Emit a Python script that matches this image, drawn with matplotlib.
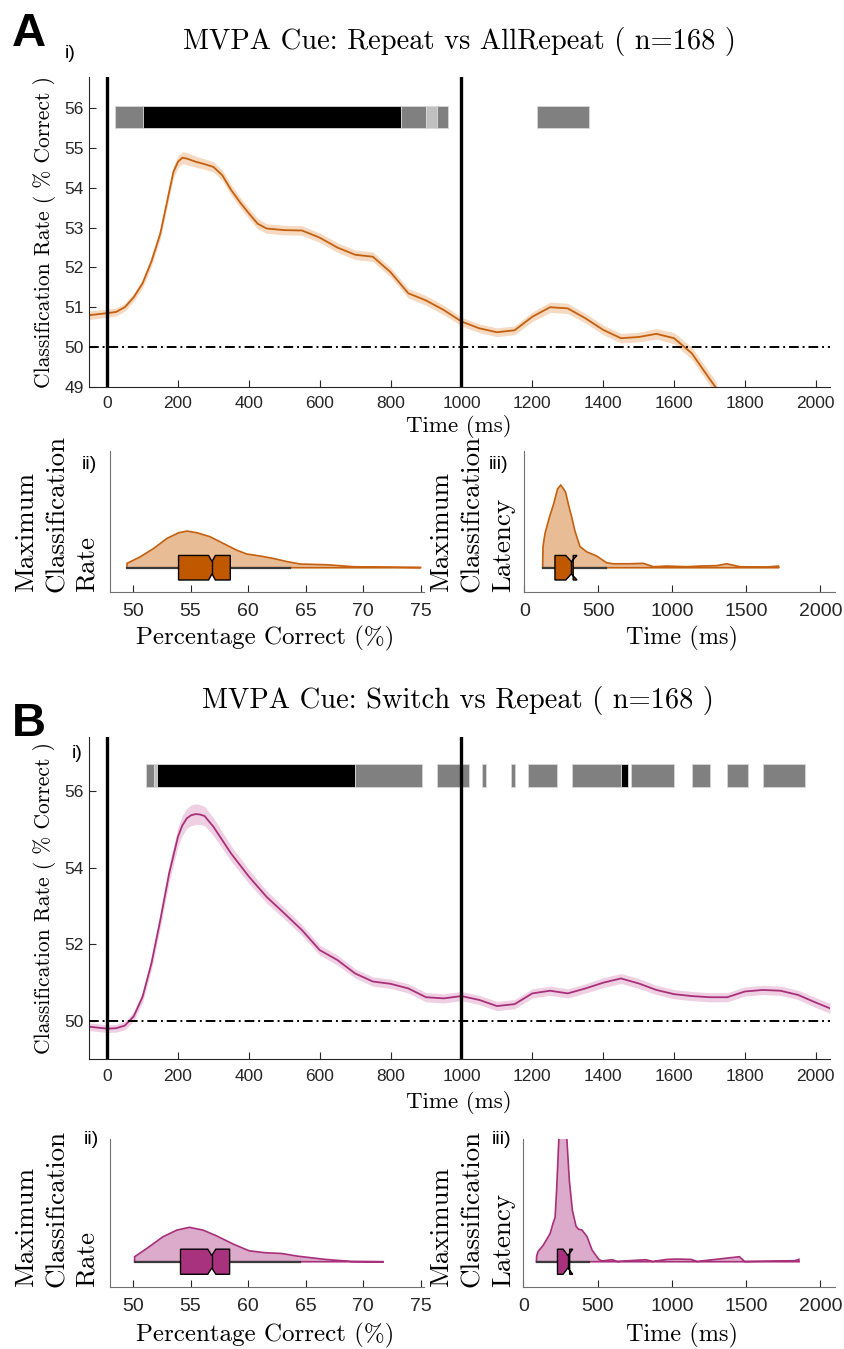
import matplotlib
matplotlib.use("Agg")
import matplotlib.pyplot as plt
from matplotlib.patches import Polygon
import numpy as np

plt.rcParams["font.family"] = ["Liberation Sans", "DejaVu Sans"]
SERIF = ["cmr10", "DejaVu Serif"]

# --- panel A: Repeat vs AllRepeat ---
a_time = [-50, 0, 25, 50, 75, 100, 125, 150, 162, 175, 187, 200, 212, 225, 250, 275, 300,
          325, 350, 375, 400, 425, 450, 500, 550, 600, 650, 700, 750, 800, 850, 900, 950,
          1000, 1050, 1100, 1150, 1200, 1250, 1300, 1350, 1400, 1450, 1500, 1550, 1600,
          1650, 1700, 1720]
a_mean = [50.80, 50.85, 50.88, 51.00, 51.25, 51.60, 52.15, 52.85, 53.35, 53.90, 54.40,
          54.66, 54.76, 54.74, 54.66, 54.60, 54.53, 54.32, 53.95, 53.64, 53.36, 53.10,
          52.98, 52.94, 52.93, 52.75, 52.50, 52.32, 52.27, 51.88, 51.35, 51.17, 50.93,
          50.64, 50.47, 50.37, 50.42, 50.76, 51.00, 50.97, 50.72, 50.43, 50.22, 50.25,
          50.33, 50.22, 49.84, 49.20, 48.95]
a_sem = [0.11, 0.10, 0.10, 0.10, 0.10, 0.11, 0.12, 0.13, 0.14, 0.14, 0.15, 0.15, 0.15,
         0.15, 0.14, 0.13, 0.13, 0.13, 0.13, 0.13, 0.13, 0.13, 0.12, 0.12, 0.12, 0.12,
         0.12, 0.12, 0.12, 0.12, 0.12, 0.12, 0.12, 0.11, 0.11, 0.11, 0.11, 0.12, 0.13,
         0.13, 0.12, 0.12, 0.12, 0.12, 0.13, 0.14, 0.15, 0.16, 0.16]
# significance bar segments (start ms, end ms, shade)
a_sig = [(21, 100, "#808080"), (100, 829, "#000000"), (829, 901, "#808080"),
         (901, 930, "#c0c0c0"), (930, 961, "#808080"), (1212, 1359, "#808080")]

a_rate_x = [49.48, 50.64, 51.8, 52.95, 53.97, 54.7, 55.57, 56.7, 57.86, 59.0, 59.9,
            61.07, 62.2, 63.4, 64.57, 66.9, 69.2, 75.0]
a_rate_d = [0.031, 0.078, 0.137, 0.208, 0.248, 0.260, 0.248, 0.220, 0.172, 0.125, 0.097,
            0.083, 0.066, 0.043, 0.026, 0.021, 0.007, 0.002]
a_rate_box = [53.96, 56.57, 56.87, 57.16, 58.46]   # q1, notch lo, median, notch hi, q3
a_rate_whisk = [49.48, 63.68]

a_lat_x = [124, 126, 140, 170, 198, 225, 246, 265, 279, 300, 320, 342, 376, 421, 489,
           556, 601, 700, 804, 872, 962, 1097, 1187, 1300, 1367, 1457, 1637, 1716, 1720]
a_lat_d = [0.0, 0.149, 0.244, 0.36, 0.452, 0.56, 0.586, 0.56, 0.534, 0.44, 0.36, 0.26,
           0.15, 0.113, 0.083, 0.035, 0.028, 0.028, 0.031, 0.007, 0.012, 0.007, 0.012,
           0.015, 0.028, 0.007, 0.005, 0.012, 0.0]
a_lat_box = [207, 280, 318, 356, 330]
a_lat_whisk = [124, 552]

# --- panel B: Switch vs Repeat ---
b_time = [-50, 0, 25, 50, 75, 100, 125, 150, 175, 200, 212, 225, 237, 250, 262, 275, 300,
          350, 400, 450, 500, 550, 600, 650, 700, 750, 800, 850, 900, 950, 1000, 1050,
          1100, 1150, 1200, 1250, 1300, 1350, 1400, 1450, 1500, 1550, 1600, 1650, 1700,
          1750, 1800, 1850, 1900, 1950, 2000, 2040]
b_mean = [49.85, 49.80, 49.81, 49.88, 50.12, 50.63, 51.50, 52.63, 53.85, 54.81, 55.10,
          55.29, 55.37, 55.40, 55.39, 55.35, 55.07, 54.37, 53.77, 53.24, 52.81, 52.37,
          51.85, 51.59, 51.24, 51.03, 50.97, 50.85, 50.62, 50.59, 50.65, 50.55, 50.39,
          50.44, 50.72, 50.79, 50.72, 50.85, 51.00, 51.11, 50.98, 50.81, 50.70, 50.65,
          50.62, 50.62, 50.77, 50.81, 50.79, 50.68, 50.48, 50.33]
b_sem = [0.10, 0.10, 0.10, 0.11, 0.12, 0.14, 0.17, 0.20, 0.23, 0.25, 0.26, 0.26, 0.27,
         0.27, 0.26, 0.25, 0.23, 0.20, 0.18, 0.16, 0.15, 0.14, 0.13, 0.13, 0.12, 0.12,
         0.12, 0.12, 0.12, 0.12, 0.12, 0.12, 0.12, 0.12, 0.12, 0.12, 0.12, 0.12, 0.13,
         0.13, 0.13, 0.12, 0.12, 0.12, 0.12, 0.12, 0.12, 0.12, 0.12, 0.12, 0.13, 0.13]
b_sig = [(110, 132, "#808080"), (132, 140, "#c0c0c0"), (140, 700, "#000000"),
         (700, 889, "#808080"), (930, 1020, "#808080"), (1059, 1069, "#808080"),
         (1140, 1150, "#808080"), (1189, 1270, "#808080"), (1311, 1450, "#808080"),
         (1450, 1470, "#000000"), (1479, 1601, "#808080"), (1650, 1700, "#808080"),
         (1749, 1810, "#808080"), (1850, 1969, "#808080")]

b_rate_x = [50.14, 51.2, 52.6, 53.8, 54.9, 56.1, 57.3, 58.7, 60.1, 61.5, 62.9, 64.3,
            66.7, 69.0, 71.8]
b_rate_d = [0.034, 0.090, 0.169, 0.214, 0.233, 0.214, 0.174, 0.120, 0.074, 0.061,
            0.056, 0.038, 0.016, 0.002, 0.0]
b_rate_box = [54.13, 56.5, 56.85, 57.2, 58.4]
b_rate_whisk = [50.14, 64.5]

b_lat_x = [88, 90, 100, 135, 180, 200, 214, 225, 240, 250, 265, 280, 295, 310, 330,
           355, 372, 395, 429, 463, 508, 530, 598, 632, 824, 870, 970, 1038, 1128, 1170,
           1455, 1489, 1828, 1855, 1856]
b_lat_d = [0.0, 0.04, 0.07, 0.113, 0.19, 0.26, 0.30, 0.50, 0.85, 1.2, 1.3, 1.1, 0.8,
           0.55, 0.35, 0.24, 0.22, 0.215, 0.17, 0.079, 0.016, 0.005, 0.014, 0.002,
           0.014, 0.002, 0.016, 0.018, 0.016, 0.002, 0.034, 0.002, 0.007, 0.016, 0.0]
b_lat_box = [230, 268, 300, 333, 312]
b_lat_whisk = [90, 439]

ORANGE = "#c4600f"
ORANGE_BAND = "#f5d9c0"
ORANGE_FILL = "#e8bd96"
ORANGE_BOX = "#c05800"
MAGENTA = "#a8307a"
MAGENTA_BAND = "#efd0e3"
MAGENTA_FILL = "#dcaaca"
MAGENTA_BOX = "#a8327d"
AXC = "#262626"

W, H = 845, 1349
fig = plt.figure(figsize=(W / 100, H / 100), dpi=100)


def fx(x):
    return x / W


def fy(y):
    return 1 - y / H


def box_px(left, top, right, bottom):
    return [fx(left), fy(bottom), (right - left) / W, (bottom - top) / H]


def timecourse(rect, t, m, s, col, band, sig, sig_y, ylim, yticks):
    ax = fig.add_axes(rect)
    m = np.asarray(m)
    s = np.asarray(s)
    ax.fill_between(t, m - s, m + s, color=band, lw=0, zorder=1)
    ax.plot(t, m, color=col, lw=1.3, zorder=2, solid_joinstyle="round")
    ax.axhline(50, color="k", ls=(0, (5, 2, 1, 2)), lw=1.4, zorder=3)
    for v in (0, 1000):
        ax.axvline(v, color="k", lw=2.4, zorder=5)
    for start, end, shade in sig:
        ax.broken_barh([(start, end - start)], (sig_y[0], sig_y[1] - sig_y[0]),
                       facecolors=shade, edgecolors="#d8d8d8", lw=0.6, zorder=4)
    ax.set_xlim(-50, 2040)
    ax.set_ylim(*ylim)
    ax.set_xticks(range(0, 2001, 200))
    ax.set_yticks(yticks)
    for sp in ("top", "right"):
        ax.spines[sp].set_visible(False)
    for sp in ("left", "bottom"):
        ax.spines[sp].set_color(AXC)
    ax.tick_params(direction="in", length=5, width=0.8, labelsize=12.5, colors=AXC)
    ax.tick_params(axis="x", pad=7)
    ax.tick_params(axis="y", pad=4)
    return ax


def distribution(rect, xs, dens, box, whisk, xlim, xticks, col, fill, boxcol, base, half):
    ax = fig.add_axes(rect)
    xs = np.asarray(xs, float)
    d = np.asarray(dens, float)
    ax.fill(np.r_[xs, xs[::-1]], np.r_[base + d, np.full(len(xs), base)],
            facecolor=fill, edgecolor=col, lw=1.2, zorder=1)
    ax.plot(whisk, [base, base], color="#3a3a3a", lw=1.6, zorder=2)
    q1, nlo, med, nhi, q3 = box
    top, bot, ind = base + half, base - half, half * 0.5
    verts = [(q1, bot), (q1, top), (nlo, top), (med, base + ind), (nhi, top), (q3, top),
             (q3, bot), (nhi, bot), (med, base - ind), (nlo, bot)]
    ax.add_patch(Polygon(verts, closed=True, facecolor=boxcol, edgecolor="k", lw=1.0, zorder=3))
    ax.plot([med, med], [base - ind, base + ind], color="k", lw=1.0, zorder=4)
    ax.set_xlim(*xlim)
    ax.set_ylim(0, 1)
    ax.set_xticks(xticks)
    ax.set_yticks([])
    for sp in ("top", "right"):
        ax.spines[sp].set_visible(False)
    for sp in ("left", "bottom"):
        ax.spines[sp].set_color("#707070")
    ax.tick_params(direction="in", length=5, width=0.8, labelsize=14, colors=AXC, pad=8)
    return ax


# ---------------- Panel A ----------------
timecourse(box_px(89.4, 76.7, 830, 386.7), a_time, a_mean, a_sem, ORANGE, ORANGE_BAND,
           a_sig, (55.5, 56.06), (49, 56.8), range(49, 57))
distribution(box_px(110, 450.7, 424, 591.7), a_rate_x, a_rate_d, a_rate_box, a_rate_whisk,
             (48.0, 75.3), range(50, 76, 5), ORANGE, ORANGE_FILL, ORANGE_BOX, 0.17, 0.087)
distribution(box_px(524.3, 450.7, 835, 591.7), a_lat_x, a_lat_d, a_lat_box, a_lat_whisk,
             (0, 2098), range(0, 2001, 500), ORANGE, ORANGE_FILL, ORANGE_BOX, 0.17, 0.087)

# ---------------- Panel B ----------------
timecourse(box_px(89.4, 736.7, 830, 1059.3), b_time, b_mean, b_sem, MAGENTA, MAGENTA_BAND,
           b_sig, (56.1, 56.72), (49, 57.42), range(50, 57, 2))
distribution(box_px(110, 1139, 424, 1286.7), b_rate_x, b_rate_d, b_rate_box, b_rate_whisk,
             (48.0, 75.3), range(50, 76, 5), MAGENTA, MAGENTA_FILL, MAGENTA_BOX, 0.169, 0.085)
distribution(box_px(523.3, 1139, 835, 1286.7), b_lat_x, b_lat_d, b_lat_box, b_lat_whisk,
             (0, 2098), range(0, 2001, 500), MAGENTA, MAGENTA_FILL, MAGENTA_BOX, 0.169, 0.085)

# ---------------- texts ----------------
fig.text(fx(12), fy(46), "A", fontsize=34, fontweight="bold", ha="left", va="baseline")
fig.text(fx(12), fy(736), "B", fontsize=34, fontweight="bold", ha="left", va="baseline")

fig.text(fx(459), fy(42), "MVPA Cue: Repeat vs AllRepeat ( n=168 )", family=SERIF,
         fontsize=20.5, ha="center", va="center")
fig.text(fx(458), fy(701), "MVPA Cue: Switch vs Repeat ( n=168 )", family=SERIF,
         fontsize=20.5, ha="center", va="center")

for yc in (231.7, 898):
    fig.text(fx(45), fy(yc), "Classification Rate ( % Correct )", family=SERIF,
             fontsize=15.5, rotation=90, ha="center", va="center")
for yc in (426, 1103):
    fig.text(fx(459), fy(yc), "Time (ms)", family=SERIF, fontsize=16.5,
             ha="center", va="center")

# stacked y-labels of the distribution panels, one text per line
rate_lines = [("Maximum", 26), ("Classification", 57), ("Rate", 87)]
lat_lines = [("Maximum", 441), ("Classification", 472), ("Latency", 503)]
for yb, yx in ((591.7, 638), (1286.7, 1335)):
    for word, xc in rate_lines + lat_lines:
        fig.text(fx(xc), fy(yb), word, family=SERIF, fontsize=19.5, rotation=90,
                 ha="center", va="bottom")
    fig.text(fx(265), fy(yx), "Percentage Correct (%)", family=SERIF, fontsize=18,
             ha="center", va="center")
    fig.text(fx(682), fy(yx), "Time (ms)", family=SERIF, fontsize=17.5,
             ha="center", va="center")

fig.text(fx(70), fy(54), "i)", fontsize=14, ha="center", va="center")
fig.text(fx(77), fy(753), "i)", fontsize=14, ha="center", va="center")
fig.text(fx(89), fy(464), "ii)", fontsize=14, ha="center", va="center")
fig.text(fx(499), fy(464), "iii)", fontsize=14, ha="center", va="center")
fig.text(fx(91), fy(1140), "ii)", fontsize=14, ha="center", va="center")
fig.text(fx(502), fy(1140), "iii)", fontsize=14, ha="center", va="center")

fig.savefig("out.png", dpi=100)
